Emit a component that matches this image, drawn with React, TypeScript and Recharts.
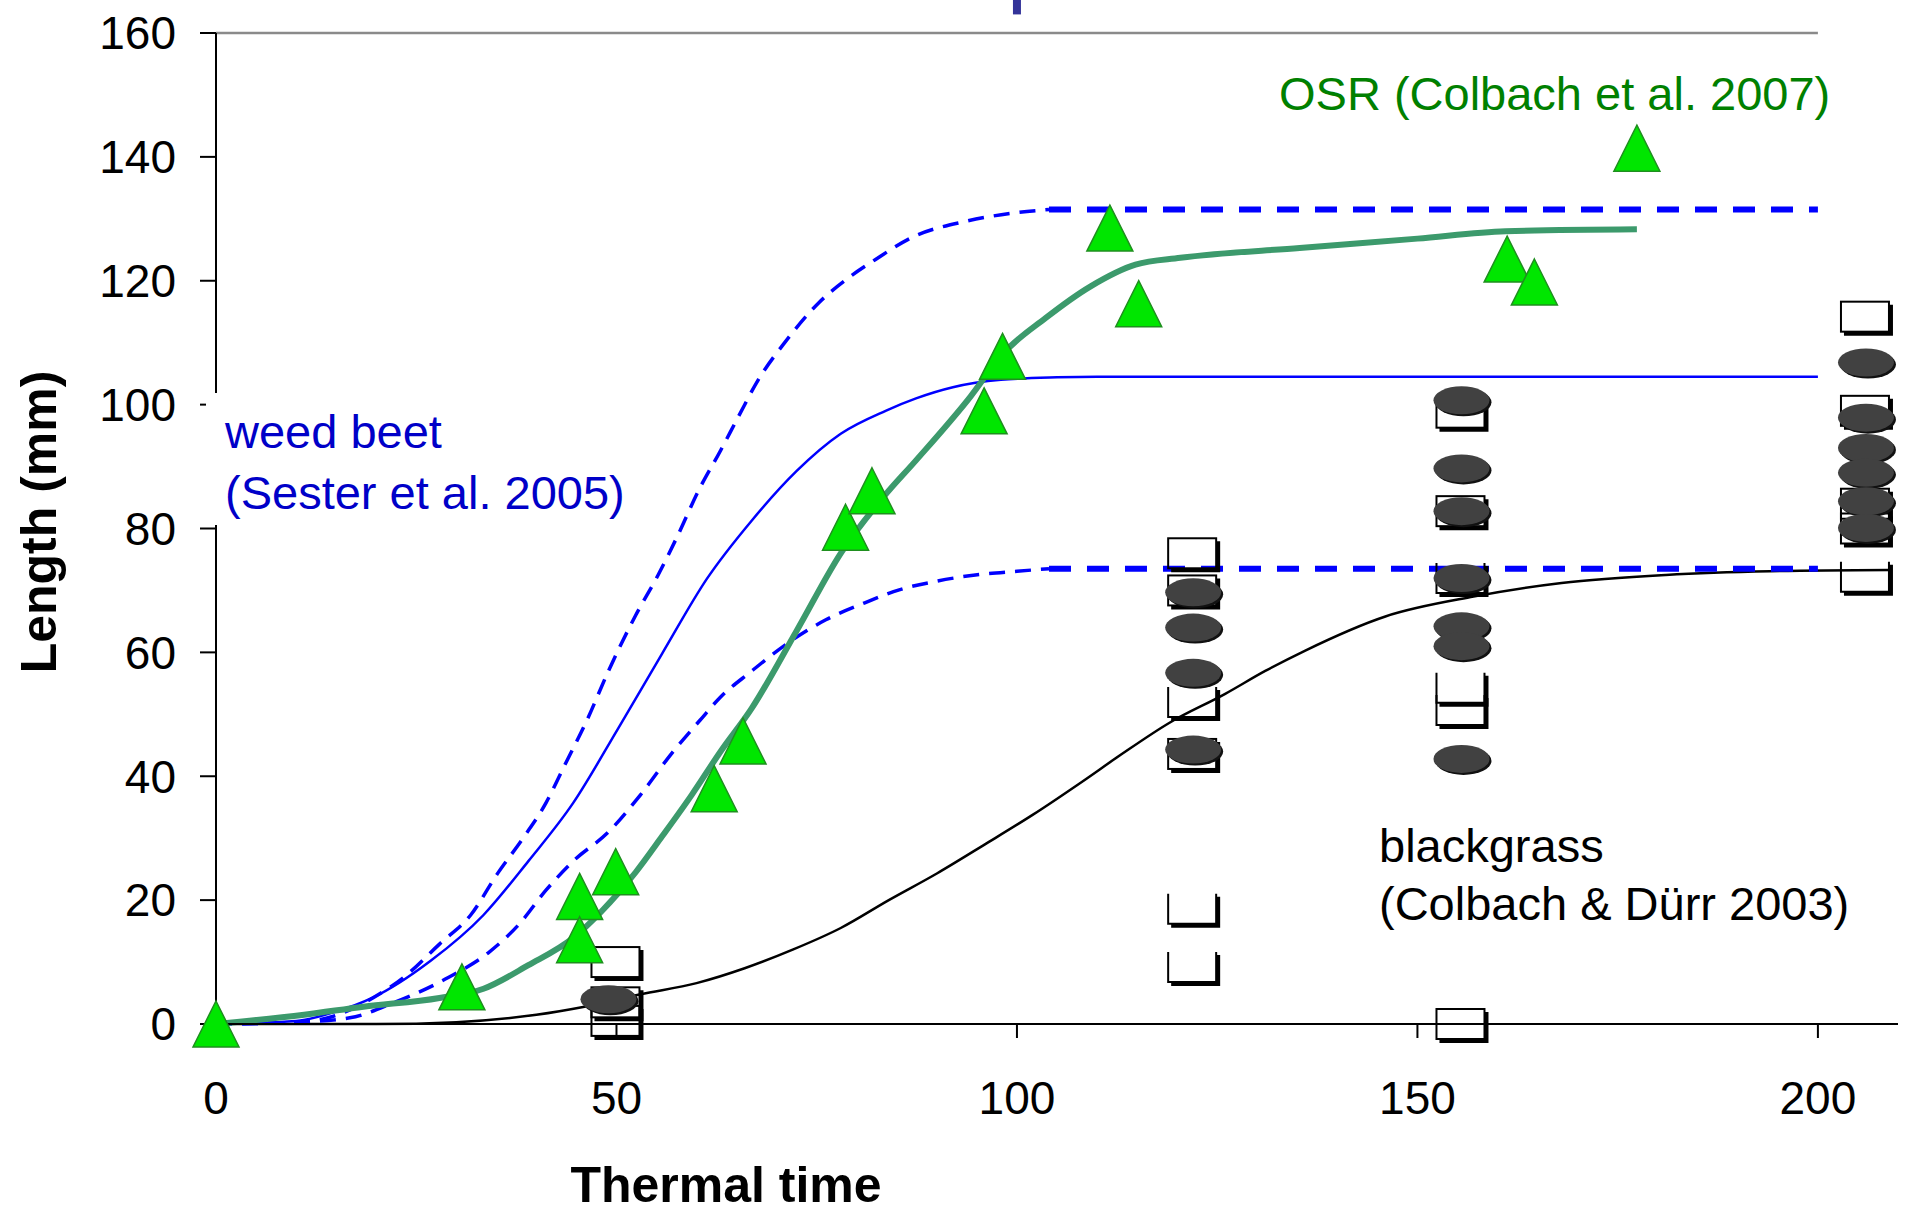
import React from "react";
import {
  ComposedChart,
  Line,
  Scatter,
  XAxis,
  YAxis,
  ReferenceLine,
} from "recharts";

type Pt = [number, number];

const FONT = "'Liberation Sans', Arial, sans-serif";

const xTicks = [0, 50, 100, 150, 200];
const yTicks = [0, 20, 40, 60, 80, 100, 120, 140, 160];

// weed beet (Sester et al. 2005) - three simulated curves
const beetHigh: Pt[] = [
  [0, 0], [10, 0.3], [14, 1], [20.6, 5], [23.4, 7.5], [27.9, 12.9], [31.8, 17.6],
  [35.1, 24.2], [38.5, 30.3], [41.2, 35.7], [43.5, 41.7], [46.3, 49], [49, 57],
  [52.4, 66], [55.2, 72.5], [57.7, 79], [60.2, 86], [63, 92.6], [65.2, 98],
  [67.7, 104], [71, 110], [75.3, 116.5], [79, 120.5], [82.3, 123.4], [86.9, 127],
  [93.6, 129.6], [100, 131], [104, 131.5],
];
const beetHighPlateau: Pt[] = [[104, 131.5], [200, 131.5]];

const beetMid: Pt[] = [
  [0, 0], [10, 0.5], [15, 2], [19.5, 4.2], [26.8, 10.2], [33.4, 17.6], [39, 26.3],
  [44.6, 35.7], [50.2, 47.7], [55.7, 59.8], [61.3, 71.9], [66.9, 81.3], [72.5, 89.3],
  [78, 95.3], [83.6, 99], [87.4, 101], [92, 102.8], [98, 104], [105, 104.4],
  [110, 104.5], [200, 104.5],
];

const beetLow: Pt[] = [
  [0, 0], [10, 0.3], [16.7, 1], [22.3, 3.5], [29, 7.5], [34, 11.5], [37.9, 16.2],
  [41.2, 21.6], [44.6, 26.3], [49, 31], [53, 37], [56.9, 43.7], [60.4, 49],
  [63, 52.8], [66.7, 56.8], [71.4, 61.5], [76.2, 65.3], [81, 68], [85.3, 70.1],
  [90, 71.5], [94.8, 72.5], [100, 73.1], [104, 73.5],
];
const beetLowPlateau: Pt[] = [[104, 73.5], [200, 73.5]];

// OSR (Colbach et al. 2007)
const osrModel: Pt[] = [
  [0, 0], [11, 1.5], [18.4, 2.8], [27.9, 4.2], [33.4, 5.7], [39, 9.5], [44.6, 13.9],
  [48, 18], [52.4, 24.5], [55.7, 30.3], [59.4, 37], [63, 44], [66.9, 51],
  [72.5, 63.5], [78, 76], [83.6, 85.5], [87.4, 91], [94.2, 101.3], [98.1, 108],
  [103.6, 114], [109.2, 119.1], [114.8, 122.6], [120.4, 123.7], [135.3, 125.3],
  [150, 126.8], [161, 128], [177.4, 128.3],
];
const osrObserved: Pt[] = [
  [0, 0], [30.7, 6], [45.4, 20.6], [45.4, 13.6], [49.9, 24.6], [62.2, 38],
  [65.8, 45.7], [78.6, 80.2], [81.9, 86.1], [95.9, 99], [98.2, 107.8],
  [111.6, 128.5], [115.2, 116.3], [161.2, 123.5], [164.6, 119.8], [177.4, 141.4],
];

// blackgrass (Colbach & Dürr 2003)
const grassModel: Pt[] = [
  [0, 0], [20, 0], [30, 0.3], [40, 1.5], [46, 2.8], [53, 4.8], [60, 6.6], [66, 9],
  [72, 12], [78, 15.5], [84, 20], [90, 24.3], [96, 29], [102, 33.8], [108, 39],
  [113, 43.5], [119, 48.6], [126, 53.3], [131, 57], [136, 60.3], [146, 65.8],
  [157, 69], [168, 71.2], [181, 72.5], [194, 73.1], [209, 73.3],
];
const grassBoxes: Pt[] = [
  [50, 10], [50, 3.5], [50, 0.5],
  [122, 76], [122, 70], [122, 43.6],
  [155.5, 98.7], [155.5, 82.8], [155.5, 0],
  [206, 114.2], [206, 99], [206, 84], [206, 80],
];
const grassCups: Pt[] = [
  [122, 52], [122, 18.6], [122, 9.2],
  [155.5, 72], [155.5, 54.3], [155.5, 50.7],
  [206, 72.2],
];
const grassDots: Pt[] = [
  [49, 4],
  [122, 69.7], [122, 64], [122, 56.7], [122, 44.3],
  [155.5, 100.7], [155.5, 89.7], [155.5, 82.8], [155.5, 72], [155.5, 64.2],
  [155.5, 61], [155.5, 42.8],
  [206, 106.8], [206, 97.9], [206, 93], [206, 89], [206, 84.4], [206, 80.1],
];

const rows = (pts: Pt[]) => pts.map(([x, y]) => ({ x, y }));

const Triangle = (p: any) => {
  const { cx, cy } = p;
  return (
    <polygon
      points={`${cx},${cy - 23} ${cx + 23},${cy + 23} ${cx - 23},${cy + 23}`}
      fill="#00e600"
      stroke="#1f8f1f"
      strokeWidth={1.5}
    />
  );
};

const Box = (p: any) => {
  const { cx, cy } = p;
  return (
    <g>
      <rect x={cx - 25} y={cy - 15} width={48} height={30} fill="none" stroke="#000" strokeWidth={2} />
      <path d={`M${cx + 25},${cy - 12} V${cy + 17} H${cx - 22}`} fill="none" stroke="#000" strokeWidth={4} />
    </g>
  );
};

const Cup = (p: any) => {
  const { cx, cy } = p;
  return (
    <g>
      <path d={`M${cx - 25},${cy - 15} V${cy + 15} H${cx + 23} V${cy - 15}`} fill="none" stroke="#000" strokeWidth={2} />
      <path d={`M${cx + 25},${cy - 12} V${cy + 17} H${cx - 22}`} fill="none" stroke="#000" strokeWidth={4} />
    </g>
  );
};

const Blob = (p: any) => {
  const { cx, cy } = p;
  return (
    <g>
      <ellipse cx={cx + 2} cy={cy + 2} rx={28} ry={14} fill="#111" />
      <ellipse cx={cx} cy={cy} rx={28} ry={14} fill="#414141" />
    </g>
  );
};

const tickStyle = { fontSize: 46, fill: "#000", fontFamily: FONT };

export default function App() {
  return (
    <div style={{ position: "absolute", left: 0, top: 0, width: 1905, height: 1210, background: "#fff", fontFamily: FONT }}>
      <ComposedChart width={1905} height={1210} margin={{ top: 33, right: 7, bottom: 0, left: 0 }}>
        <XAxis
          type="number"
          dataKey="x"
          domain={[0, 210]}
          ticks={xTicks}
          tick={tickStyle}
          tickSize={14}
          tickMargin={43}
          height={186}
          axisLine={{ stroke: "#000", strokeWidth: 2 }}
          tickLine={{ stroke: "#000", strokeWidth: 2 }}
        />
        <YAxis
          type="number"
          domain={[0, 160]}
          ticks={yTicks}
          tick={tickStyle}
          tickSize={16}
          tickMargin={24}
          width={216}
          axisLine={{ stroke: "#000", strokeWidth: 2 }}
          tickLine={{ stroke: "#000", strokeWidth: 2 }}
        />
        <ReferenceLine segment={[{ x: 0, y: 160 }, { x: 200, y: 160 }]} stroke="#8a8a8a" strokeWidth={2.5} />
        <ReferenceLine
          segment={[{ x: 100, y: 163 }, { x: 100, y: 165.5 }]}
          stroke="#333399"
          strokeWidth={8}
          ifOverflow="visible"
        />

        <Scatter data={rows(grassCups)} dataKey="y" shape={Cup} isAnimationActive={false} />
        <Scatter data={rows(grassBoxes)} dataKey="y" shape={Box} isAnimationActive={false} />
        <Scatter data={rows(grassDots)} dataKey="y" shape={Blob} isAnimationActive={false} />

        <Line data={rows(grassModel)} dataKey="y" type="monotone" stroke="#000" strokeWidth={2.5} dot={false} activeDot={false} isAnimationActive={false} />
        <Line data={rows(beetMid)} dataKey="y" type="monotone" stroke="#0000ff" strokeWidth={2.5} dot={false} activeDot={false} isAnimationActive={false} />
        <Line data={rows(beetHigh)} dataKey="y" type="monotone" stroke="#0000ff" strokeWidth={3.5} strokeDasharray="16 10" dot={false} activeDot={false} isAnimationActive={false} />
        <Line data={rows(beetHighPlateau)} dataKey="y" type="linear" stroke="#0000ff" strokeWidth={6} strokeDasharray="22 16" dot={false} activeDot={false} isAnimationActive={false} />
        <Line data={rows(beetLow)} dataKey="y" type="monotone" stroke="#0000ff" strokeWidth={3.5} strokeDasharray="16 10" dot={false} activeDot={false} isAnimationActive={false} />
        <Line data={rows(beetLowPlateau)} dataKey="y" type="linear" stroke="#0000ff" strokeWidth={6} strokeDasharray="22 16" dot={false} activeDot={false} isAnimationActive={false} />
        <Line data={rows(osrModel)} dataKey="y" type="monotone" stroke="#3c9a6c" strokeWidth={6} dot={false} activeDot={false} isAnimationActive={false} />

        <Scatter data={rows(osrObserved)} dataKey="y" shape={Triangle} isAnimationActive={false} />
      </ComposedChart>

      {/* annotations */}
      <div
        style={{
          position: "absolute", left: 206, top: 393, width: 430, height: 132,
          background: "#fff", color: "#0000c8", fontSize: 47, lineHeight: "61px",
          paddingTop: 8, paddingLeft: 19, boxSizing: "border-box", whiteSpace: "nowrap",
        }}
      >
        weed beet
        <br />
        (Sester et al. 2005)
      </div>
      <div style={{ position: "absolute", left: 1279, top: 64, color: "#008000", fontSize: 47, lineHeight: "60px", whiteSpace: "nowrap" }}>
        OSR (Colbach et al. 2007)
      </div>
      <div style={{ position: "absolute", left: 1379, top: 817, color: "#000", fontSize: 47, lineHeight: "58px", whiteSpace: "nowrap" }}>
        blackgrass
        <br />
        (Colbach &amp; Dürr 2003)
      </div>
      <div
        style={{
          position: "absolute", left: 39, top: 522, transform: "translate(-50%, -50%) rotate(-90deg)",
          fontWeight: "bold", fontSize: 50, whiteSpace: "nowrap", color: "#000",
        }}
      >
        Length (mm)
      </div>
      <div
        style={{
          position: "absolute", left: 726, top: 1185, transform: "translate(-50%, -50%)",
          fontWeight: "bold", fontSize: 50, whiteSpace: "nowrap", color: "#000",
        }}
      >
        Thermal time
      </div>
    </div>
  );
}
